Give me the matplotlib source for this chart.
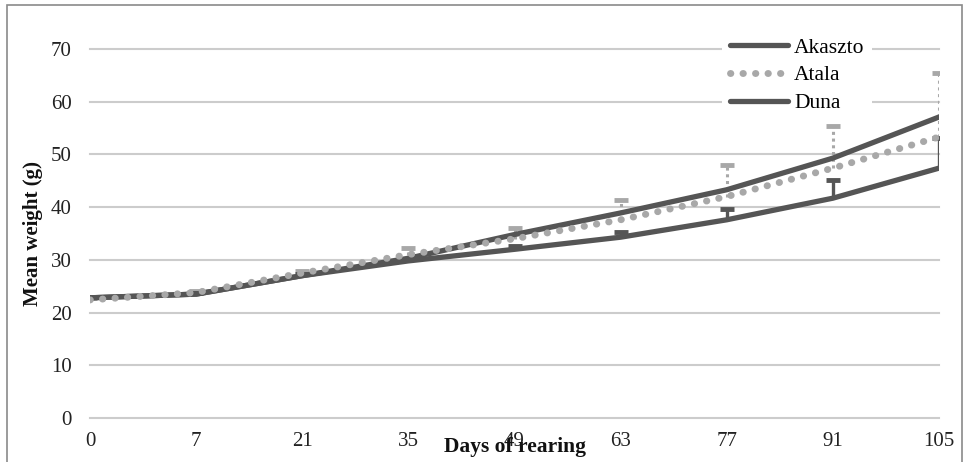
import matplotlib
matplotlib.use("Agg")
import matplotlib.pyplot as plt
from matplotlib.patches import Rectangle
import numpy as np

days = ["0", "7", "21", "35", "49", "63", "77", "91", "105"]
akaszto = [22.8, 23.5, 27.0, 30.3, 34.8, 38.9, 43.3, 49.3, 57.1]
atala = [22.4, 23.8, 27.5, 31.0, 34.0, 37.6, 42.0, 47.4, 53.3]
duna = [22.8, 23.5, 27.0, 29.8, 32.0, 34.3, 37.6, 41.7, 47.4]
atala_err = [0.3, 0.3, 0.4, 1.3, 2.0, 3.8, 6.0, 8.0, 12.2]
duna_err = [0.2, 0.2, 0.3, 0.4, 0.6, 0.9, 2.0, 3.5, 5.7]
yticks = [0, 10, 20, 30, 40, 50, 60, 70]

plt.rcParams['font.family'] = ['Liberation Serif', 'DejaVu Serif']

W, H = 967, 462
fig = plt.figure(figsize=(W / 100, H / 100), dpi=100)
ax = fig.add_axes([90 / W, (H - 418) / H, (939 - 90) / W, (418 - 49) / H])

x = np.arange(len(days))
dark = '#555555'
light = '#a8a8a8'

atala_top = np.array(atala) + np.array(atala_err)
duna_top = np.array(duna) + np.array(duna_err)

# upper-only error bars
ax.vlines(x, atala, atala_top, colors=light, lw=2.2, linestyles=(0, (1, 1.2)),
          zorder=3)
ax.plot(x, atala_top, linestyle='none', marker='_', ms=10, mew=3.5,
        color=light, zorder=3)
ax.vlines(x, duna, duna_top, colors=dark, lw=2.4, zorder=3)
ax.plot(x, duna_top, linestyle='none', marker='_', ms=10, mew=3.5,
        color=dark, zorder=3)

ax.plot(x, akaszto, color=dark, lw=3.8, label='Akaszto', zorder=4,
        solid_capstyle='round')
ax.plot(x, atala, color=light, lw=5, linestyle=(0, (0.05, 1.75)),
        dash_capstyle='round', label='Atala', zorder=5)
ax.plot(x, duna, color=dark, lw=3.8, label='Duna', zorder=4,
        solid_capstyle='round')

ax.set_xlim(0, len(days) - 1)
ax.set_ylim(0, 70)
ax.set_yticks(yticks)
ax.set_xticks(x)
ax.set_xticklabels(days)
ax.tick_params(axis='both', length=0, labelsize=15, colors='#222222')
ax.tick_params(axis='y', pad=13)
ax.tick_params(axis='x', pad=10)
for s in ax.spines.values():
    s.set_visible(False)
ax.yaxis.grid(True, color='#cccccc', lw=1.5)
ax.set_axisbelow(True)
for gl in ax.get_ygridlines():
    gl.set_clip_on(False)

leg = ax.legend(loc='upper left', bbox_to_anchor=(722 / W, 1 - 30 / H),
                bbox_transform=fig.transFigure, fontsize=15.5, frameon=True,
                handlelength=2.7, handletextpad=0.3, labelspacing=0.36,
                borderpad=0.35, borderaxespad=0)
leg.get_frame().set_facecolor('white')
leg.get_frame().set_edgecolor('none')
leg.get_frame().set_alpha(1)

fig.text(515 / W, 1 - 447 / H, 'Days of rearing', fontsize=15.5,
         fontweight='bold', ha='center', va='center', color='#111111')
fig.text(33 / W, 1 - 234 / H, 'Mean weight (g)', fontsize=15,
         fontweight='bold', ha='center', va='center', rotation=90,
         color='#111111')

fig.patches.append(Rectangle((7 / W, -0.1), (962 - 7) / W, 1.1 - 5 / H,
                             transform=fig.transFigure, fill=False,
                             edgecolor='#8a8a8a', lw=1.2))

fig.savefig('out.png', dpi=100, facecolor='white')
